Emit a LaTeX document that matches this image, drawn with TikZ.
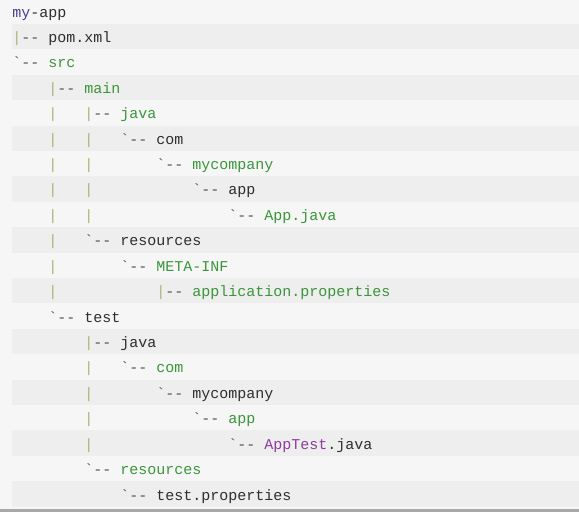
\documentclass[tikz,border=0pt]{standalone}
\usepackage{fontspec}
\setmonofont{Liberation Mono}
\usepackage{tikz}
\definecolor{paper}{HTML}{F6F6F6}
\definecolor{band}{HTML}{EEEEEE}
\definecolor{rulegray}{HTML}{A8A8A8}
\definecolor{ink}{HTML}{2E2E2E}
\definecolor{leaf}{HTML}{3A963A}
\definecolor{plum}{HTML}{8E3C9E}
\definecolor{navy}{HTML}{4A3F8C}
\definecolor{guide}{HTML}{A6B67A}
\definecolor{dashink}{HTML}{505050}
\newlength\cw \setlength\cw{6.75pt}
\newcommand\gap[1]{\hspace*{#1\cw}}
\newcommand\tpipe{\textcolor{guide}{|}}
\newcommand\ttee{\textcolor{guide}{|}\textcolor{dashink}{--}\gap{1}}
\newcommand\tlast{\textcolor{dashink}{`--}\gap{1}}
\tikzset{entry/.style={anchor=base west,inner sep=0pt,text=ink,
    font=\ttfamily\fontsize{11.25}{13}\selectfont}}

\begin{document}
\begin{tikzpicture}[x=0.75pt,y=-0.75pt]
  \useasboundingbox (0,0) rectangle (579,512);
  % listing background
  \fill[paper] (0,0) rectangle (579,512);
  \foreach \i in {1,3,...,19}
    \fill[band] (12,{24+(\i-1)*25.4}) rectangle (579,{24+\i*25.4});
  \fill[rulegray] (0,508.5) rectangle (579,512);
  % tree lines
  \node[entry] (myapp) at (12,17) {\textcolor{navy}{my}-app};
  \node[entry] (pom) at (12,42.4) {\ttee pom.xml};
  \node[entry] (src) at (12,67.8) {\tlast\textcolor{leaf}{src}};
  \node[entry] (main) at (12,93.3) {\gap{4}\ttee\textcolor{leaf}{main}};
  \node[entry] (mainjava) at (12,118.7) {\gap{4}\tpipe\gap{3}\ttee\textcolor{leaf}{java}};
  \node[entry] (maincom) at (12,144.1) {\gap{4}\tpipe\gap{3}\tpipe\gap{3}\tlast com};
  \node[entry] (mainfirm) at (12,169.5) {\gap{4}\tpipe\gap{3}\tpipe\gap{7}\tlast\textcolor{leaf}{mycompany}};
  \node[entry] (mainapp) at (12,194.9) {\gap{4}\tpipe\gap{3}\tpipe\gap{11}\tlast app};
  \node[entry] (appjava) at (12,220.4) {\gap{4}\tpipe\gap{3}\tpipe\gap{15}\tlast\textcolor{leaf}{App.java}};
  \node[entry] (mainres) at (12,245.8) {\gap{4}\tpipe\gap{3}\tlast resources};
  \node[entry] (metainf) at (12,271.2) {\gap{4}\tpipe\gap{7}\tlast\textcolor{leaf}{META-INF}};
  \node[entry] (appprops) at (12,296.6) {\gap{4}\tpipe\gap{11}\ttee\textcolor{leaf}{application.properties}};
  \node[entry] (test) at (12,322) {\gap{4}\tlast test};
  \node[entry] (testjava) at (12,347.5) {\gap{8}\ttee java};
  \node[entry] (testcom) at (12,372.9) {\gap{8}\tpipe\gap{3}\tlast\textcolor{leaf}{com}};
  \node[entry] (testfirm) at (12,398.3) {\gap{8}\tpipe\gap{7}\tlast mycompany};
  \node[entry] (testapp) at (12,423.7) {\gap{8}\tpipe\gap{11}\tlast\textcolor{leaf}{app}};
  \node[entry] (apptest) at (12,449.1) {\gap{8}\tpipe\gap{15}\tlast\textcolor{plum}{AppTest}.java};
  \node[entry] (testres) at (12,474.6) {\gap{8}\tlast\textcolor{leaf}{resources}};
  \node[entry] (testprops) at (12,500) {\gap{12}\tlast test.properties};
\end{tikzpicture}
\end{document}
